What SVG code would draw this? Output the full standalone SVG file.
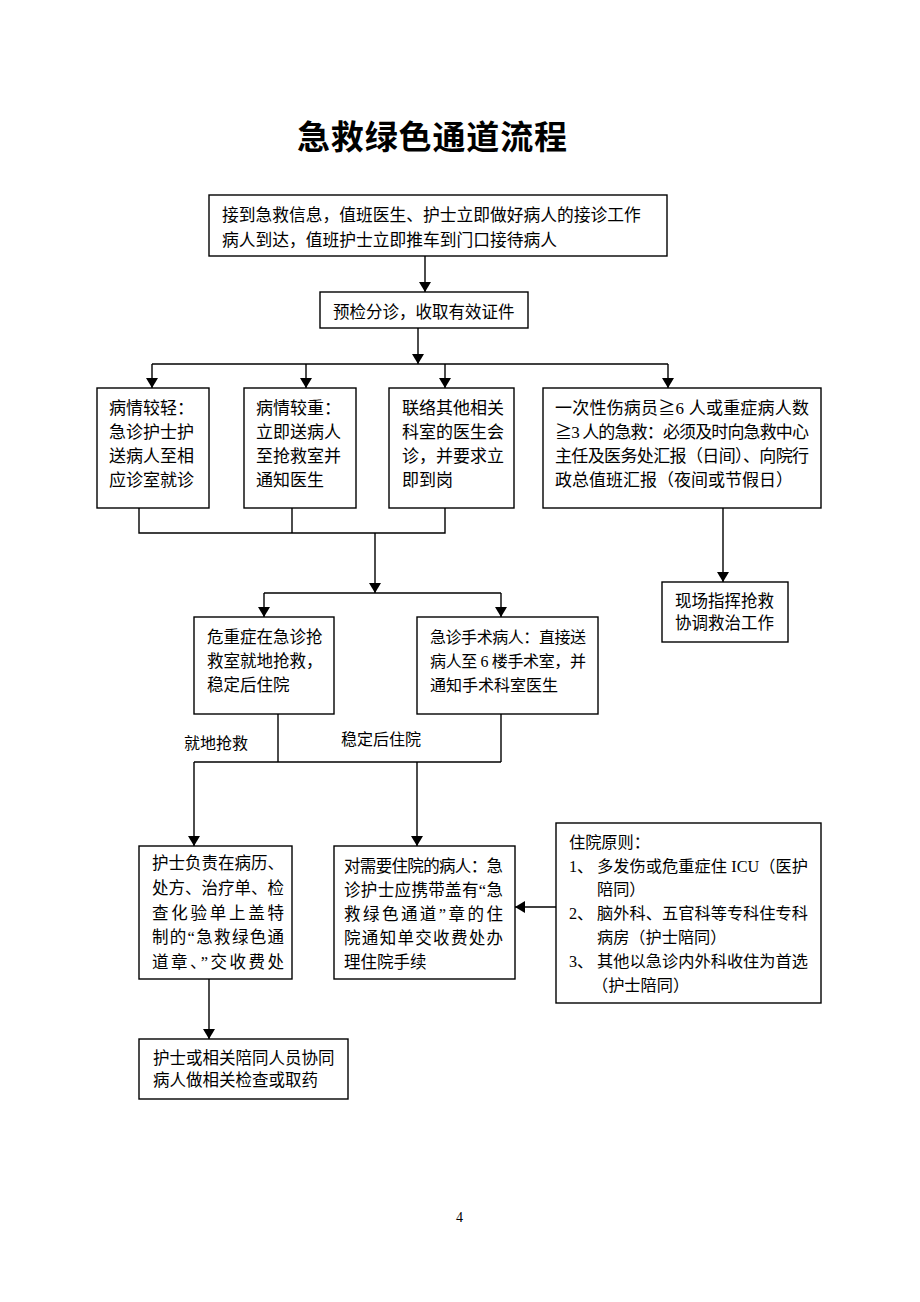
<svg xmlns="http://www.w3.org/2000/svg" width="920" height="1302" viewBox="0 0 920 1302">
<defs>
<marker id="arr" markerUnits="userSpaceOnUse" markerWidth="10" markerHeight="12" refX="10" refY="6" orient="auto" viewBox="0 0 10 12">
<path d="M0,0 L10,6 L0,12 z" fill="#000"/>
</marker>
<style>
.box{fill:#fff;stroke:#000;stroke-width:1.4}
.t{font-family:'Liberation Serif','Noto Sans CJK SC',serif;font-size:16.5px;fill:#000}
.t17{font-size:17px}
.ln{fill:none;stroke:#000;stroke-width:1.4}
.ar{fill:none;stroke:#000;stroke-width:1.4;marker-end:url(#arr)}
</style>
</defs>
<rect width="920" height="1302" fill="#fff"/>
<g id="title">
<text x="297" y="149" textLength="270" lengthAdjust="spacing" style="font-family:'Noto Sans CJK SC',sans-serif;font-size:33px;font-weight:700">急救绿色通道流程</text>
</g>
<g id="connectors">
<line class="ar" x1="425" y1="256" x2="425" y2="292"/>
<line class="ar" x1="418" y1="328" x2="418" y2="364"/>
<polyline class="ln" points="152,364 668,364"/>
<line class="ar" x1="152" y1="364" x2="152" y2="388"/>
<line class="ar" x1="306" y1="364" x2="306" y2="388"/>
<line class="ar" x1="445" y1="364" x2="445" y2="388"/>
<line class="ar" x1="668" y1="364" x2="668" y2="388"/>
<polyline class="ln" points="139,508 139,533 445,533 445,508"/>
<line class="ln" x1="292" y1="508" x2="292" y2="533"/>
<line class="ar" x1="375" y1="533" x2="375" y2="593"/>
<polyline class="ln" points="264,593 501,593"/>
<line class="ar" x1="264" y1="593" x2="264" y2="617"/>
<line class="ar" x1="501" y1="593" x2="501" y2="617"/>
<line class="ar" x1="723" y1="508" x2="723" y2="582"/>
<polyline class="ln" points="278,714 278,762"/>
<polyline class="ln" points="501,714 501,762"/>
<polyline class="ln" points="194,762 501,762"/>
<line class="ar" x1="194" y1="762" x2="194" y2="846"/>
<line class="ar" x1="417" y1="762" x2="417" y2="846"/>
<line class="ar" x1="556" y1="907" x2="515" y2="907"/>
<line class="ar" x1="209" y1="979" x2="209" y2="1039"/>
<text class="t" x="184" y="749" style="font-size:16px">就地抢救</text>
<text class="t" x="341" y="745" style="font-size:16px">稳定后住院</text>
</g>
<g id="n1">
<rect class="box" x="209" y="195" width="458" height="61"/>
<text class="t" x="222" y="221" style="font-size:16.75px">接到急救信息，值班医生、护士立即做好病人的接诊工作</text>
<text class="t" x="222" y="246" style="font-size:16.75px">病人到达，值班护士立即推车到门口接待病人</text>
</g>
<g id="n2">
<rect class="box" x="320" y="292" width="208" height="36"/>
<text class="t" x="333" y="318">预检分诊，收取有效证件</text>
</g>
<g id="nA">
<rect class="box" x="97" y="388" width="112" height="120"/>
<text class="t t17" x="109" y="414">病情较轻：</text>
<text class="t t17" x="109" y="438">急诊护士护</text>
<text class="t t17" x="109" y="462">送病人至相</text>
<text class="t t17" x="109" y="486">应诊室就诊</text>
</g>
<g id="nB">
<rect class="box" x="244" y="388" width="112" height="120"/>
<text class="t t17" x="256" y="414">病情较重：</text>
<text class="t t17" x="256" y="438">立即送病人</text>
<text class="t t17" x="256" y="462">至抢救室并</text>
<text class="t t17" x="256" y="486">通知医生</text>
</g>
<g id="nC">
<rect class="box" x="389" y="388" width="125" height="120"/>
<text class="t t17" x="402" y="414">联络其他相关</text>
<text class="t t17" x="402" y="438">科室的医生会</text>
<text class="t t17" x="402" y="462">诊，并要求立</text>
<text class="t t17" x="402" y="486">即到岗</text>
</g>
<g id="nD">
<rect class="box" x="543" y="388" width="278" height="120"/>
<text class="t t17" x="555" y="414" textLength="254" lengthAdjust="spacing">一次性伤病员≧6 人或重症病人数</text>
<text class="t t17" x="555" y="438" textLength="254" lengthAdjust="spacing">≧3 人的急救：必须及时向急救中心</text>
<text class="t t17" x="555" y="462" textLength="254" lengthAdjust="spacing">主任及医务处汇报（日间）、向院行</text>
<text class="t t17" x="555" y="486">政总值班汇报（夜间或节假日）</text>
</g>
<g id="nE">
<rect class="box" x="662" y="582" width="126" height="60"/>
<text class="t" x="675" y="607">现场指挥抢救</text>
<text class="t" x="675" y="629">协调救治工作</text>
</g>
<g id="nF">
<rect class="box" x="194" y="617" width="140" height="97"/>
<text class="t" x="207" y="643">危重症在急诊抢</text>
<text class="t" x="207" y="667">救室就地抢救，</text>
<text class="t" x="207" y="691">稳定后住院</text>
</g>
<g id="nG">
<rect class="box" x="417" y="617" width="181" height="97"/>
<text class="t" x="430" y="643" style="font-size:16px" textLength="156" lengthAdjust="spacing">急诊手术病人：直接送</text>
<text class="t" x="430" y="667" style="font-size:16px" textLength="156" lengthAdjust="spacing">病人至 6 楼手术室，并</text>
<text class="t" x="430" y="691" style="font-size:16px">通知手术科室医生</text>
</g>
<g id="nH">
<rect class="box" x="139" y="846" width="153" height="133"/>
<text class="t" x="152" y="869" textLength="132" lengthAdjust="spacing">护士负责在病历、</text>
<text class="t" x="152" y="894" textLength="132" lengthAdjust="spacing">处方、治疗单、检</text>
<text class="t" x="152" y="919" textLength="132" lengthAdjust="spacing">查化验单上盖特</text>
<text class="t" x="152" y="943" textLength="132" lengthAdjust="spacing">制的“急救绿色通</text>
<text class="t" x="152" y="968" textLength="132" lengthAdjust="spacing">道章、”交收费处</text>
</g>
<g id="nI">
<rect class="box" x="334" y="846" width="181" height="133"/>
<text class="t" x="344" y="872" textLength="159" lengthAdjust="spacing">对需要住院的病人：急</text>
<text class="t" x="344" y="896" textLength="159" lengthAdjust="spacing">诊护士应携带盖有“急</text>
<text class="t" x="344" y="920" textLength="159" lengthAdjust="spacing">救绿色通道”章的住</text>
<text class="t" x="344" y="944" textLength="159" lengthAdjust="spacing">院通知单交收费处办</text>
<text class="t" x="344" y="968">理住院手续</text>
</g>
<g id="nJ">
<rect class="box" x="556" y="823" width="265" height="180"/>
<text class="t" x="569" y="848" style="font-size:16.2px">住院原则：</text>
<text class="t" x="569" y="872" style="font-size:16.2px">1、</text>
<text class="t" x="597" y="872" style="font-size:16.2px" textLength="211" lengthAdjust="spacing">多发伤或危重症住 ICU（医护</text>
<text class="t" x="597" y="895" style="font-size:16.2px">陪同）</text>
<text class="t" x="569" y="919" style="font-size:16.2px">2、</text>
<text class="t" x="597" y="919" style="font-size:16.2px" textLength="211" lengthAdjust="spacing">脑外科、五官科等专科住专科</text>
<text class="t" x="597" y="943" style="font-size:16.2px">病房（护士陪同）</text>
<text class="t" x="569" y="967" style="font-size:16.2px">3、</text>
<text class="t" x="597" y="967" style="font-size:16.2px" textLength="211" lengthAdjust="spacing">其他以急诊内外科收住为首选</text>
<text class="t" x="592" y="991" style="font-size:16.2px">（护士陪同）</text>
</g>
<g id="nK">
<rect class="box" x="139" y="1039" width="209" height="60"/>
<text class="t" x="153" y="1064">护士或相关陪同人员协同</text>
<text class="t" x="153" y="1086">病人做相关检查或取药</text>
</g>
<g id="page">
<text class="t" x="456" y="1222" style="font-size:14px">4</text>
</g>
</svg>
